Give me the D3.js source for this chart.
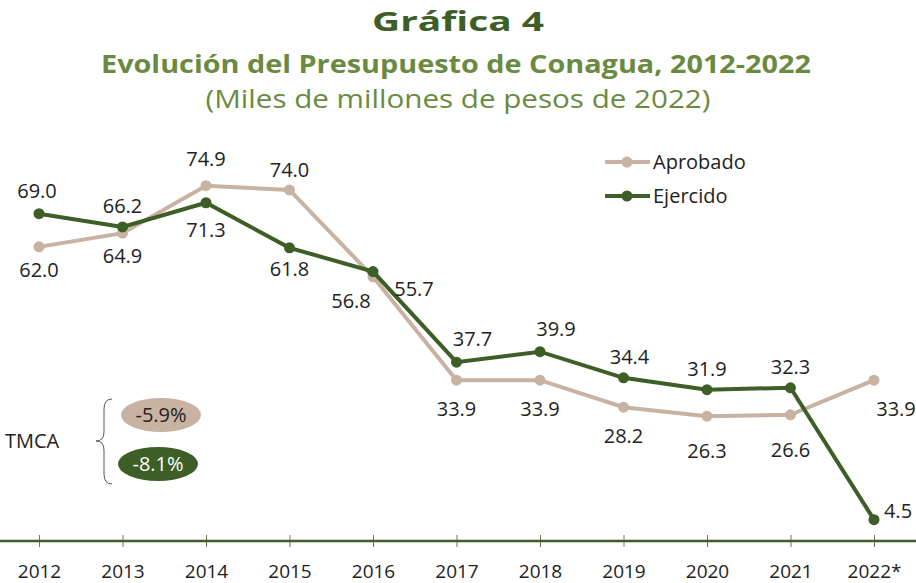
<!DOCTYPE html>
<html>
<head>
<meta charset="utf-8">
<script src="https://cdn.jsdelivr.net/npm/d3@7"></script>
<style>
  body { margin: 0; background: #fff; }
  svg { display: block; font-family: "Open Sans", sans-serif; }
</style>
</head>
<body>
<svg id="chart" width="916" height="583"></svg>
<script>
const years = ['2012', '2013', '2014', '2015', '2016', '2017', '2018', '2019', '2020', '2021', '2022*'];
const aprobado = [62.0, 64.9, 74.9, 74.0, 55.7, 33.9, 33.9, 28.2, 26.3, 26.6, 33.9];
const ejercido = [69.0, 66.2, 71.3, 61.8, 56.8, 37.7, 39.9, 34.4, 31.9, 32.3, 4.5];
const tmca = ['-5.9%', '-8.1%'];

// label offsets relative to each point
const aprobadoLabelPos = [[0, 30], [0, 30], [0, -20], [0, -13], [41, 19], [0, 36], [0, 36], [0, 36], [0, 42], [0, 42], [22, 36]];
const ejercidoLabelPos = [[-2, -16], [0, -14], [0, 34], [0, 28], [-22, 36], [16, -16], [16, -16], [6, -14], [0, -14], [0, -14], [24, -2]];

const colAprobado = '#c8b2a1';
const colEjercido = '#3d5e26';
const titleDark = '#3d5e26';
const titleLight = '#6a8a41';

const svg = d3.select('#chart');

const x = d3.scalePoint().domain(years).range([39, 874]);
const y = d3.scaleLinear().domain([0, 100]).range([541, 66.6]);

// titles
svg.append('text').attr('x', 458).attr('y', 31).attr('text-anchor', 'middle')
  .attr('font-size', 26).attr('font-weight', 'bold').attr('fill', titleDark)
  .attr('textLength', 172).attr('lengthAdjust', 'spacingAndGlyphs').text('Gráfica 4');
svg.append('text').attr('x', 456).attr('y', 73).attr('text-anchor', 'middle')
  .attr('font-size', 25).attr('font-weight', 'bold').attr('fill', titleLight)
  .attr('textLength', 710).attr('lengthAdjust', 'spacingAndGlyphs')
  .text('Evolución del Presupuesto de Conagua, 2012-2022');
svg.append('text').attr('x', 458).attr('y', 108).attr('text-anchor', 'middle')
  .attr('font-size', 26).attr('fill', titleLight)
  .attr('textLength', 505).attr('lengthAdjust', 'spacingAndGlyphs')
  .text('(Miles de millones de pesos de 2022)');

// axis
const axis = svg.append('g').attr('transform', 'translate(0,541)')
  .call(d3.axisBottom(x).tickSize(6).tickPadding(18));
axis.select('.domain').remove();
axis.selectAll('.tick line').attr('y1', -6).attr('stroke', '#6b7a5a').attr('stroke-width', 1);
axis.selectAll('.tick text').attr('font-size', 19).attr('fill', '#222')
  .attr('font-family', '"Open Sans", sans-serif');
svg.append('line').attr('x1', 0).attr('x2', 916).attr('y1', 541).attr('y2', 541)
  .attr('stroke', colEjercido).attr('stroke-width', 2.5);

const series = [
  { name: 'Aprobado', values: aprobado, color: colAprobado, labels: aprobadoLabelPos },
  { name: 'Ejercido', values: ejercido, color: colEjercido, labels: ejercidoLabelPos }
];

const line = d3.line().x((d, i) => x(years[i])).y(d => y(d));

series.forEach(s => {
  svg.append('path').datum(s.values)
    .attr('fill', 'none').attr('stroke', s.color).attr('stroke-width', 4)
    .attr('d', line);
  svg.selectAll(null).data(s.values).enter().append('circle')
    .attr('cx', (d, i) => x(years[i])).attr('cy', d => y(d)).attr('r', 5.5)
    .attr('fill', s.color);
});

series.forEach(s => {
  svg.selectAll(null).data(s.values).enter().append('text')
    .attr('x', (d, i) => x(years[i]) + s.labels[i][0])
    .attr('y', (d, i) => y(d) + s.labels[i][1])
    .attr('text-anchor', 'middle').attr('font-size', 20).attr('fill', '#222')
    .text(d => d.toFixed(1));
});

// legend
series.forEach((s, i) => {
  const ly = 162 + i * 34;
  svg.append('line').attr('x1', 605).attr('x2', 650).attr('y1', ly).attr('y2', ly)
    .attr('stroke', s.color).attr('stroke-width', 4);
  svg.append('circle').attr('cx', 627).attr('cy', ly).attr('r', 5.5).attr('fill', s.color);
  svg.append('text').attr('x', 653).attr('y', ly + 7).attr('font-size', 20).attr('fill', '#222').text(s.name);
});

// TMCA
svg.append('text').attr('x', 5).attr('y', 448).attr('font-size', 20).attr('fill', '#222').text('TMCA');
svg.append('path')
  .attr('d', 'M112,399 Q104,399 104,409 L104,432 Q104,441 96,441 Q104,441 104,450 L104,474 Q104,484 112,484')
  .attr('fill', 'none').attr('stroke', '#555').attr('stroke-width', 1);
const pills = [{ cx: 161, cy: 415, fill: colAprobado, txt: '#222' }, { cx: 158, cy: 464, fill: colEjercido, txt: '#fff' }];
pills.forEach((p, i) => {
  svg.append('ellipse').attr('cx', p.cx).attr('cy', p.cy).attr('rx', 40).attr('ry', 17).attr('fill', p.fill);
  svg.append('text').attr('x', p.cx).attr('y', p.cy + 7).attr('text-anchor', 'middle')
    .attr('font-size', 20).attr('fill', p.txt).text(tmca[i]);
});
</script>
</body>
</html>
